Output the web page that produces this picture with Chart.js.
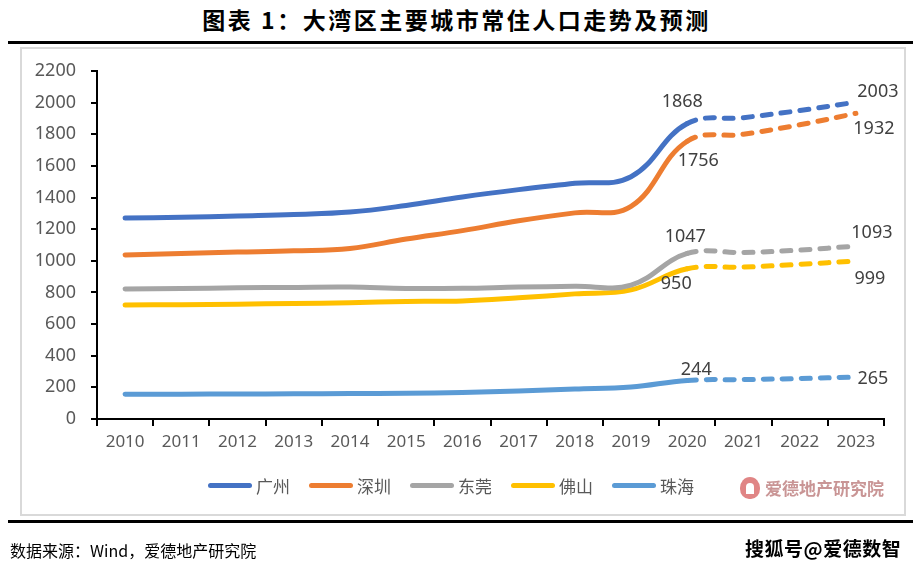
<!DOCTYPE html>
<html><head><meta charset="utf-8">
<script src="https://cdn.jsdelivr.net/npm/chart.js@4/dist/chart.umd.min.js"></script>
<style>
html,body{margin:0;padding:0;background:#fff;}
#wrap{position:relative;width:913px;height:566px;overflow:hidden;font-family:'Noto Sans','Noto Sans CJK SC',sans-serif;}
#title{position:absolute;left:0;top:2px;width:913px;text-align:center;font:bold 23px 'Noto Sans CJK SC',serif;letter-spacing:2.5px;color:#000;}
.hr{position:absolute;left:8px;width:905px;height:3px;background:#000;}
#box{position:absolute;left:20px;top:47px;width:886px;height:469px;border:2px solid #d9d9d9;box-sizing:border-box;}
#c{position:absolute;left:0;top:0;}
#legend{position:absolute;left:208px;top:472px;display:flex;align-items:center;height:26px;}
.li{display:flex;align-items:center;margin-right:19px;font:17px 'Noto Sans CJK SC',sans-serif;color:#595959;}
.sw{width:44px;height:5px;border-radius:3px;margin-right:4px;}
#wm{position:absolute;left:740px;top:475px;display:flex;align-items:center;font:bold 17px 'Noto Sans CJK SC',sans-serif;color:#c99595;}
#wm .ic{width:20px;height:22px;border-radius:50% 50% 45% 45%;background:#e08585;margin-right:5px;position:relative;}
#wm .ic:after{content:'';position:absolute;left:6px;top:6px;width:8px;height:11px;border-radius:4px 4px 0 0;background:#fff;}
#src{position:absolute;left:10px;top:538px;font:16px 'Noto Sans CJK SC',monospace;color:#000;}
#sohu{position:absolute;left:745px;top:534px;font:bold 19px 'Noto Sans CJK SC',sans-serif;letter-spacing:0.5px;color:#000;}
</style></head>
<body>
<div id="wrap">
  <div id="title">图表 1：大湾区主要城市常住人口走势及预测</div>
  <div class="hr" style="top:41px"></div>
  <div id="box"></div>
  <canvas id="c" width="913" height="566"></canvas>
  <div id="legend"></div>
  <div id="wm"><span class="ic"></span>爱德地产研究院</div>
  <div class="hr" style="top:520px"></div>
  <div id="src">数据来源：Wind，爱德地产研究院</div>
  <div id="sohu">搜狐号@爱德数智</div>
</div>
<script>
const years = ['2010','2011','2012','2013','2014','2015','2016','2017','2018','2019','2020','2021','2022','2023'];
const cityNames = ['广州','深圳','东莞','佛山','珠海'];
const guangzhou = [1270, 1275, 1284, 1293, 1308, 1350, 1404, 1450, 1490, 1531, 1868, 1905, 1950, 2003];
const shenzhen  = [1037, 1047, 1055, 1063, 1078, 1138, 1191, 1253, 1303, 1344, 1756, 1800, 1860, 1932];
const dongguan  = [822, 825, 829, 832, 834, 825, 826, 834, 839, 846, 1047, 1052, 1068, 1093];
const foshan    = [720, 723, 726, 730, 735, 743, 746, 766, 791, 816, 950, 960, 978, 999];
const zhuhai    = [156, 157, 158, 159, 161, 163, 168, 177, 189, 202, 244, 249, 256, 265];
const yTicks = {min: 0, max: 2200, step: 200};
const forecastStart = 10;
const labelIdx = [10, 13];

const colors = ['#4472C4','#ED7D31','#A5A5A5','#FFC000','#5B9BD5'];
const series = [guangzhou, shenzhen, dongguan, foshan, zhuhai];
// label offsets [dx,dy] for idx 10 and 13
const offs = [
  [[-5,-22],[22,-10]],
  [[11,20],[18,15]],
  [[-2,-17],[16,-13]],
  [[-11,15],[14,18]],
  [[9,-11],[17,2]]
];

const lg = document.getElementById('legend');
cityNames.forEach((n,i)=>{
  const d=document.createElement('div');d.className='li';
  d.innerHTML='<span class="sw" style="background:'+colors[i]+'"></span>'+n;
  lg.appendChild(d);
});

const labelPlugin = {
  id:'vlabels',
  afterDatasetsDraw(chart){
    const ctx=chart.ctx;
    ctx.save();
    ctx.font='18px "Noto Sans","Noto Sans CJK SC",sans-serif';
    ctx.fillStyle='#404040';
    ctx.textAlign='center';ctx.textBaseline='middle';
    chart.data.datasets.forEach((ds,di)=>{
      const meta=chart.getDatasetMeta(di);
      labelIdx.forEach((idx,k)=>{
        const p=meta.data[idx];
        ctx.fillText(String(ds.data[idx]), p.x+offs[di][k][0], p.y+offs[di][k][1]);
      });
    });
    ctx.restore();
  }
};

new Chart(document.getElementById('c'),{
  type:'line',
  data:{
    labels:years,
    datasets:series.map((s,i)=>({
      label:cityNames[i],
      data:s,
      borderColor:colors[i],
      backgroundColor:colors[i],
      borderWidth:5,
      borderCapStyle:'round',
      pointRadius:0,
      tension:0.4,
      fill:false,
      segment:{borderDash:ctx=>ctx.p0DataIndex>=forecastStart?[9,10]:undefined}
    }))
  },
  options:{
    responsive:false,
    animation:false,
    layout:{padding:{left:0,right:29,top:71,bottom:0}},
    plugins:{legend:{display:false},tooltip:{enabled:false}},
    scales:{
      x:{
        offset:true,
        grid:{offset:true,drawOnChartArea:false,tickLength:7,color:'#000',lineWidth:2},
        border:{color:'#000',width:2},
        ticks:{font:{size:17,family:'"Noto Sans","Noto Sans CJK SC",sans-serif'},color:'#595959',padding:6,maxRotation:0},
        afterFit:s=>{s.height=147;}
      },
      y:{
        min:yTicks.min,max:yTicks.max,
        grid:{drawOnChartArea:false,tickLength:6,color:'#000',lineWidth:2},
        border:{color:'#000',width:2},
        ticks:{stepSize:yTicks.step,callback:v=>String(v),font:{size:18,family:'"Noto Sans","Noto Sans CJK SC",sans-serif'},color:'#595959',padding:15},
        afterFit:s=>{s.width=97;}
      }
    }
  },
  plugins:[labelPlugin]
});
</script>
</body></html>
